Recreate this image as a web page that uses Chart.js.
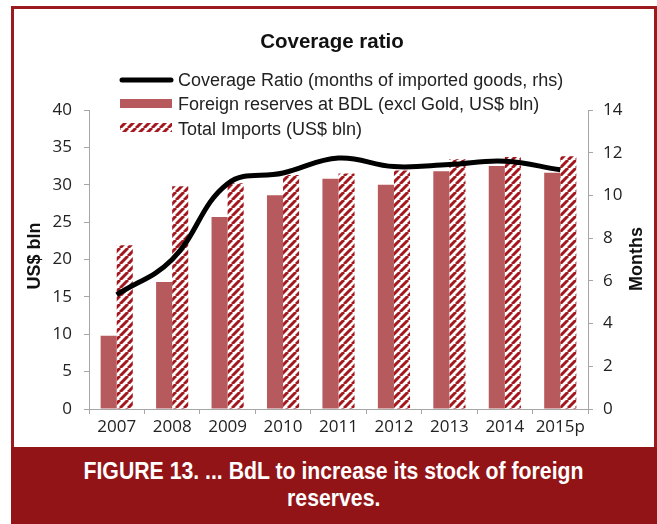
<!DOCTYPE html>
<html>
<head>
<meta charset="utf-8">
<script src="https://cdn.jsdelivr.net/npm/chart.js@4.4.0/dist/chart.umd.min.js"></script>
<style>
  body { margin: 0; background: #fff; }
  #wrap { position: relative; width: 657px; height: 524px; overflow: hidden; }
  #frame { position: absolute; left: 11px; top: 6px; width: 640px; height: 438px;
           border: 3px solid #9c1a1e; border-bottom: none; }
  #chart { position: absolute; left: 0; top: 0; }
  #caption { position: absolute; left: 11px; top: 447px; width: 646px; height: 67px;
             padding-top: 10px; background: #931417; color: #fff; text-align: center;
             font: bold 24px "Liberation Sans", sans-serif; line-height: 27px; }
  #caption span { display: inline-block; white-space: nowrap; transform: scaleX(0.885); }
</style>
</head>
<body>
<div id="wrap">
  <div id="frame"></div>
  <canvas id="chart" width="657" height="447"></canvas>
  <div id="caption"><span>FIGURE 13. ... BdL to increase its stock of foreign</span><br><span>reserves.</span></div>
</div>
<script>
const years = ["2007", "2008", "2009", "2010", "2011", "2012", "2013", "2014", "2015p"];
const reserves = [9.8, 17.0, 25.7, 28.6, 30.8, 30.0, 31.8, 32.5, 31.6];   // US$ bln
const imports = [21.9, 29.8, 30.2, 31.3, 31.5, 31.9, 33.4, 33.7, 33.8];   // US$ bln
const coverage = [5.35, 7.0, 10.55, 11.05, 11.75, 11.35, 11.45, 11.6, 11.2]; // months
const usdTicks = [0, 5, 10, 15, 20, 25, 30, 35, 40];
const monthTicks = [0, 2, 4, 6, 8, 10, 12, 14];

const legendLabels = [
  "Coverage Ratio (months of imported goods, rhs)",
  "Foreign reserves at BDL (excl Gold, US$ bln)",
  "Total Imports (US$ bln)"
];

const reserveColor = "#b65a5d";
const hatchColor = "#a3171d";
const axisColor = "#a6a6a6";
const textColor = "#222";

// striped fill for the imports bars
function makeHatch() {
  const s = 8;
  const c = document.createElement("canvas");
  c.width = s; c.height = s;
  const g = c.getContext("2d");
  g.fillStyle = "#fff";
  g.fillRect(0, 0, s, s);
  g.strokeStyle = hatchColor;
  g.lineWidth = 3;
  g.beginPath();
  for (let k = -1; k <= 1; k++) {
    g.moveTo(k * s, s);
    g.lineTo(k * s + s, 0);
  }
  g.stroke();
  return g.createPattern(c, "repeat");
}
const hatch = makeHatch();

const tickFont = { family: "'Open Sans', sans-serif", size: 17 };

const overlay = {
  id: "overlay",
  afterDraw(chart) {
    const ctx = chart.ctx;
    ctx.save();
    // title
    ctx.fillStyle = "#111";
    ctx.font = "bold 20.5px 'Liberation Sans', sans-serif";
    ctx.textAlign = "center";
    ctx.textBaseline = "alphabetic";
    ctx.fillText("Coverage ratio", 332, 48);

    // legend
    const x0 = 120, x1 = 172, tx = 178;
    ctx.strokeStyle = "#000";
    ctx.lineWidth = 5;
    ctx.lineCap = "round";
    ctx.beginPath();
    ctx.moveTo(x0 + 2, 80);
    ctx.lineTo(x1 - 1, 80);
    ctx.stroke();
    ctx.fillStyle = reserveColor;
    ctx.fillRect(x0, 99, x1 - x0, 9);
    ctx.fillStyle = hatch;
    ctx.fillRect(x0, 123, x1 - x0, 9);

    ctx.fillStyle = textColor;
    ctx.font = "18px 'Liberation Sans', sans-serif";
    ctx.textAlign = "left";
    ctx.textBaseline = "middle";
    ctx.fillText(legendLabels[0], tx, 81);
    ctx.fillText(legendLabels[1], tx, 105);
    ctx.fillText(legendLabels[2], tx, 130);

    // axis titles, both reading bottom to top
    ctx.font = "bold 18px 'Liberation Sans', sans-serif";
    ctx.fillStyle = "#111";
    ctx.textAlign = "center";
    ctx.textBaseline = "middle";
    ctx.translate(35, 256);
    ctx.rotate(-Math.PI / 2);
    ctx.fillText("US$ bln", 0, 0);
    ctx.setTransform(1, 0, 0, 1, 0, 0);
    ctx.translate(637, 259);
    ctx.rotate(-Math.PI / 2);
    ctx.fillText("Months", 0, 0);
    ctx.restore();
  }
};

new Chart(document.getElementById("chart"), {
  type: "bar",
  data: {
    labels: years,
    datasets: [
      {
        type: "line",
        label: legendLabels[0],
        data: coverage,
        yAxisID: "y1",
        borderColor: "#000",
        borderWidth: 5,
        pointRadius: 0,
        tension: 0.4,
        fill: false,
        order: 0
      },
      {
        label: legendLabels[1],
        data: reserves,
        yAxisID: "y",
        backgroundColor: reserveColor,
        borderWidth: 0,
        categoryPercentage: 0.58,
        barPercentage: 1.0,
        order: 1
      },
      {
        label: legendLabels[2],
        data: imports,
        yAxisID: "y",
        backgroundColor: hatch,
        borderWidth: 0,
        categoryPercentage: 0.58,
        barPercentage: 1.0,
        order: 1
      }
    ]
  },
  options: {
    responsive: false,
    animation: false,
    devicePixelRatio: 1,
    layout: { padding: { top: 110, left: 0, right: 0, bottom: 0 } },
    plugins: {
      legend: { display: false },
      title: { display: false },
      tooltip: { enabled: false }
    },
    scales: {
      x: {
        offset: true,
        grid: { offset: true, drawOnChartArea: false, drawTicks: true, tickLength: 5, color: axisColor },
        border: { color: axisColor, width: 1 },
        ticks: { font: tickFont, color: textColor, padding: 3, maxRotation: 0, autoSkip: false },
        afterFit(s) { s.height = 38; }
      },
      y: {
        position: "left",
        min: usdTicks[0],
        max: usdTicks[usdTicks.length - 1],
        grid: { drawOnChartArea: false, drawTicks: true, tickLength: 5, color: axisColor },
        border: { color: axisColor, width: 1 },
        ticks: { stepSize: usdTicks[1] - usdTicks[0], font: tickFont, color: textColor, padding: 12 },
        afterFit(s) { s.width = 89; }
      },
      y1: {
        position: "right",
        min: monthTicks[0],
        max: monthTicks[monthTicks.length - 1],
        grid: { drawOnChartArea: false, drawTicks: true, tickLength: 5, color: axisColor },
        border: { color: axisColor, width: 1 },
        ticks: { stepSize: monthTicks[1] - monthTicks[0], font: tickFont, color: textColor, padding: 10 },
        afterFit(s) { s.width = 69; }
      }
    }
  },
  plugins: [overlay]
});
</script>
</body>
</html>
